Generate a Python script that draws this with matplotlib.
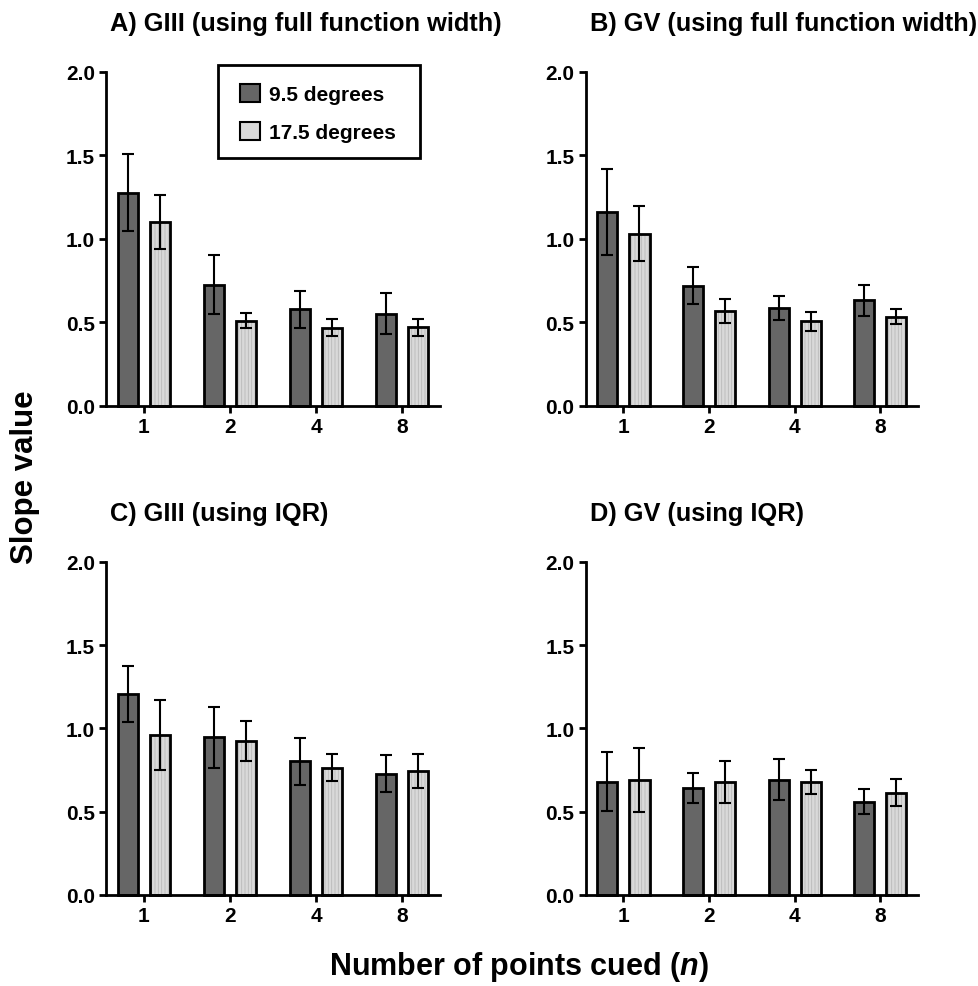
import matplotlib
matplotlib.use("Agg")
import matplotlib.pyplot as plt
from matplotlib.patches import Patch, Rectangle
import numpy as np

plt.rcParams['font.family'] = ['Liberation Sans', 'DejaVu Sans']
plt.rcParams['font.weight'] = 'bold'
plt.rcParams['mathtext.fontset'] = 'custom'
plt.rcParams['mathtext.it'] = 'Liberation Sans:italic:bold'
plt.rcParams['mathtext.rm'] = 'Liberation Sans:bold'
plt.rcParams['hatch.linewidth'] = 0.6

categories = ["1", "2", "4", "8"]
series_names = ["9.5 degrees", "17.5 degrees"]
titles = ["A) GIII (using full function width)", "B) GV (using full function width)",
          "C) GIII (using IQR)", "D) GV (using IQR)"]

# Panel A
a_dark = [1.275, 0.725, 0.578, 0.550]
a_dark_err = [0.230, 0.175, 0.110, 0.122]
a_light = [1.100, 0.508, 0.468, 0.470]
a_light_err = [0.160, 0.045, 0.050, 0.050]
# Panel B
b_dark = [1.160, 0.718, 0.585, 0.630]
b_dark_err = [0.260, 0.112, 0.073, 0.092]
b_light = [1.030, 0.565, 0.505, 0.533]
b_light_err = [0.163, 0.072, 0.056, 0.045]
# Panel C
c_dark = [1.205, 0.948, 0.803, 0.728]
c_dark_err = [0.167, 0.183, 0.140, 0.112]
c_light = [0.960, 0.925, 0.765, 0.743]
c_light_err = [0.210, 0.118, 0.080, 0.102]
# Panel D
d_dark = [0.680, 0.643, 0.693, 0.560]
d_dark_err = [0.177, 0.090, 0.122, 0.075]
d_light = [0.690, 0.680, 0.680, 0.615]
d_light_err = [0.190, 0.127, 0.073, 0.082]

panels = [(a_dark, a_dark_err, a_light, a_light_err),
          (b_dark, b_dark_err, b_light, b_light_err),
          (c_dark, c_dark_err, c_light, c_light_err),
          (d_dark, d_dark_err, d_light, d_light_err)]

W, H = 979, 987
fig = plt.figure(figsize=(W / 100, H / 100), dpi=100)

positions = [(106, 72.7, 440, 406.7), (585.7, 72.7, 918, 406.7),
             (106, 562.7, 440, 896), (585.7, 562.7, 918, 896)]

dark_col = '#666666'
light_col = '#d9d9d9'
hatch_col = '#b8b8b8'
bw = 0.235
off = 0.188
edge_lw = 2.0

axes = []
for i, (l, t, r, b) in enumerate(positions):
    ax = fig.add_axes([l / W, 1 - b / H, (r - l) / W, (b - t) / H])
    axes.append(ax)
    dk, dke, lt, lte = panels[i]
    x = np.arange(len(categories))
    ax.bar(x - off, dk, bw, color=dark_col, edgecolor='black', linewidth=edge_lw,
           clip_on=False, zorder=2)
    ax.bar(x + off, lt, bw, color=light_col, edgecolor=hatch_col, linewidth=0,
           hatch='|||||', clip_on=False, zorder=2)
    ax.bar(x + off, lt, bw, color='none', edgecolor='black', linewidth=edge_lw,
           clip_on=False, zorder=3)
    ax.errorbar(x - off, dk, yerr=dke, fmt='none', ecolor='black', elinewidth=1.5,
                capsize=4, capthick=1.5, zorder=4, clip_on=False)
    ax.errorbar(x + off, lt, yerr=lte, fmt='none', ecolor='black', elinewidth=1.5,
                capsize=4, capthick=1.5, zorder=4, clip_on=False)
    ax.set_xlim(-0.44, 3.44)
    ax.set_ylim(0, 2.0)
    ax.set_yticks([0, 0.5, 1.0, 1.5, 2.0])
    ax.set_yticklabels(['0.0', '0.5', '1.0', '1.5', '2.0'])
    ax.set_xticks(x)
    ax.set_xticklabels(categories)
    for s in ['top', 'right']:
        ax.spines[s].set_visible(False)
    for s in ['left', 'bottom']:
        ax.spines[s].set_linewidth(2.0)
        ax.spines[s].set_zorder(5)
    ax.tick_params(axis='both', width=2.0, length=5, labelsize=15, pad=3)
    for lab in ax.get_xticklabels() + ax.get_yticklabels():
        lab.set_fontweight('bold')
    ax.annotate(titles[i], xy=(0, 1), xycoords='axes fraction', xytext=(4, 42),
                textcoords='offset pixels', ha='left', va='baseline',
                fontsize=18.3, fontweight='bold')

handles = [Patch(facecolor=dark_col, edgecolor='black', linewidth=1.5),
           Patch(facecolor=light_col, edgecolor='black', linewidth=1.5)]
leg = fig.legend(handles, series_names, loc='upper left',
                 bbox_to_anchor=(221.7 / W, 1 - 66 / H), borderaxespad=0,
                 handlelength=0.96, handleheight=0.96, handletextpad=0.42,
                 labelspacing=0.85, borderpad=0.9, frameon=False,
                 prop={'weight': 'bold', 'size': 15})
frame = Rectangle((217.7 / W, 1 - 159.3 / H), (420 - 217.7) / W, (159.3 - 66) / H,
                  transform=fig.transFigure, facecolor='white', edgecolor='black',
                  linewidth=2.0, zorder=9)
fig.add_artist(frame)
leg.set_zorder(10)

fig.text(25 / W, 1 - 477 / H, 'Slope value', rotation=90, ha='center', va='center',
         fontsize=22.5, fontweight='bold')
fig.text(519 / W, 1 - 967 / H, r'Number of points cued ($\it{n}$)', ha='center',
         va='center', fontsize=22, fontweight='bold')

fig.savefig('out.png', dpi=100)
